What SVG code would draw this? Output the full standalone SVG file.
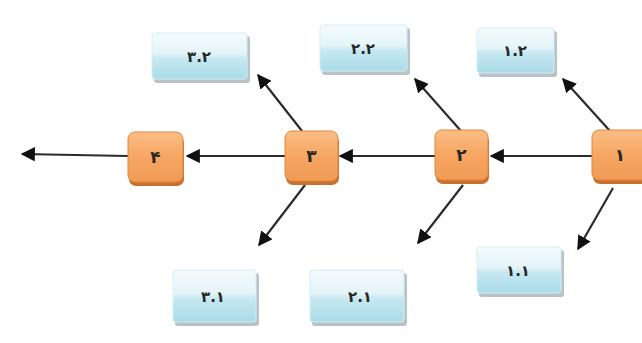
<svg xmlns="http://www.w3.org/2000/svg" width="642" height="343" viewBox="0 0 642 343">
  <style>
    .step rect.body { fill: url(#orangeGrad); stroke: #e3843c; stroke-width: 1; }
    .step rect.shade { fill: #c9702e; }
    .sub rect.body { fill: url(#blueGrad); stroke: #d6edf3; stroke-width: 1; }
    .sub rect.shade { fill: #b9c3c6; }
    .lbl { font-family: "DejaVu Sans", "Noto Sans", sans-serif; font-weight: bold; fill: #262626; text-anchor: middle; dominant-baseline: central; }
    .step .lbl { font-size: 17px; }
    .sub .lbl { font-size: 15px; }
    #connectors line { stroke: #2b2b2b; stroke-width: 2.2; marker-end: url(#head); }
  </style>
  <defs>
    <linearGradient id="orangeGrad" x1="0" y1="0" x2="0" y2="1">
      <stop offset="0" stop-color="#fbbd85"/>
      <stop offset="0.5" stop-color="#f6a662"/>
      <stop offset="1" stop-color="#f09a55"/>
    </linearGradient>
    <linearGradient id="blueGrad" x1="0" y1="0" x2="0" y2="1">
      <stop offset="0" stop-color="#f4fbfd"/>
      <stop offset="0.45" stop-color="#e4f4f8"/>
      <stop offset="0.55" stop-color="#c6e8f1"/>
      <stop offset="1" stop-color="#a9dbe8"/>
    </linearGradient>
    <marker id="head" viewBox="0 0 10 10" refX="9" refY="5" markerWidth="6.5" markerHeight="6.5" orient="auto" markerUnits="strokeWidth">
      <path d="M0,0 L10,5 L0,10 z" fill="#111"/>
    </marker>
  </defs>

  <rect width="642" height="343" fill="#ffffff"/>

  <!-- connectors -->
  <g id="connectors">
    <line x1="592" y1="156" x2="491" y2="156"/>
    <line x1="435" y1="156" x2="340" y2="156"/>
    <line x1="285" y1="156" x2="187" y2="156"/>
    <line x1="128" y1="156" x2="22" y2="154"/>
    <line x1="302" y1="131" x2="258" y2="75"/>
    <line x1="305" y1="185" x2="259" y2="245"/>
    <line x1="461" y1="131" x2="415" y2="79"/>
    <line x1="463" y1="185" x2="418" y2="243"/>
    <line x1="610" y1="131" x2="563" y2="79"/>
    <line x1="613" y1="188" x2="578" y2="249"/>
  </g>

  <!-- main steps -->
  <g id="step4" class="step">
    <rect class="shade" x="129" y="136" width="55" height="50" rx="7"/>
    <rect class="body" x="128" y="132" width="55" height="50" rx="7"/>
    <text class="lbl" x="155.5" y="157">۴</text>
  </g>
  <g id="step3" class="step">
    <rect class="shade" x="286" y="135" width="53" height="50" rx="7"/>
    <rect class="body" x="285" y="131" width="53" height="50" rx="7"/>
    <text class="lbl" x="311.5" y="156">۳</text>
  </g>
  <g id="step2" class="step">
    <rect class="shade" x="436" y="134" width="53" height="50" rx="7"/>
    <rect class="body" x="435" y="130" width="53" height="50" rx="7"/>
    <text class="lbl" x="461.5" y="155">۲</text>
  </g>
  <g id="step1" class="step">
    <rect class="shade" x="593" y="134" width="60" height="50" rx="7"/>
    <rect class="body" x="592" y="130" width="60" height="50" rx="7"/>
    <text class="lbl" x="620" y="155">۱</text>
  </g>

  <!-- sub items -->
  <g id="sub32" class="sub">
    <rect class="shade" x="154" y="36" width="96" height="47" rx="3"/>
    <rect class="body" x="152" y="33" width="95" height="46" rx="3"/>
    <text class="lbl" x="199" y="57">۳.۲</text>
  </g>
  <g id="sub22" class="sub">
    <rect class="shade" x="322" y="28" width="88" height="47" rx="3"/>
    <rect class="body" x="320" y="25" width="87" height="46" rx="3"/>
    <text class="lbl" x="363" y="49">۲.۲</text>
  </g>
  <g id="sub12" class="sub">
    <rect class="shade" x="479" y="31" width="78" height="46" rx="3"/>
    <rect class="body" x="477" y="28" width="77" height="45" rx="3"/>
    <text class="lbl" x="515" y="51">۱.۲</text>
  </g>
  <g id="sub31" class="sub">
    <rect class="shade" x="175" y="273" width="84" height="53" rx="3"/>
    <rect class="body" x="173" y="270" width="83" height="52" rx="3"/>
    <text class="lbl" x="213" y="297">۳.۱</text>
  </g>
  <g id="sub21" class="sub">
    <rect class="shade" x="312" y="273" width="95" height="53" rx="3"/>
    <rect class="body" x="310" y="270" width="94" height="52" rx="3"/>
    <text class="lbl" x="360" y="297">۲.۱</text>
  </g>
  <g id="sub11" class="sub">
    <rect class="shade" x="479" y="250" width="85" height="47" rx="3"/>
    <rect class="body" x="477" y="247" width="84" height="46" rx="3"/>
    <text class="lbl" x="518" y="271">۱.۱</text>
  </g>
</svg>
